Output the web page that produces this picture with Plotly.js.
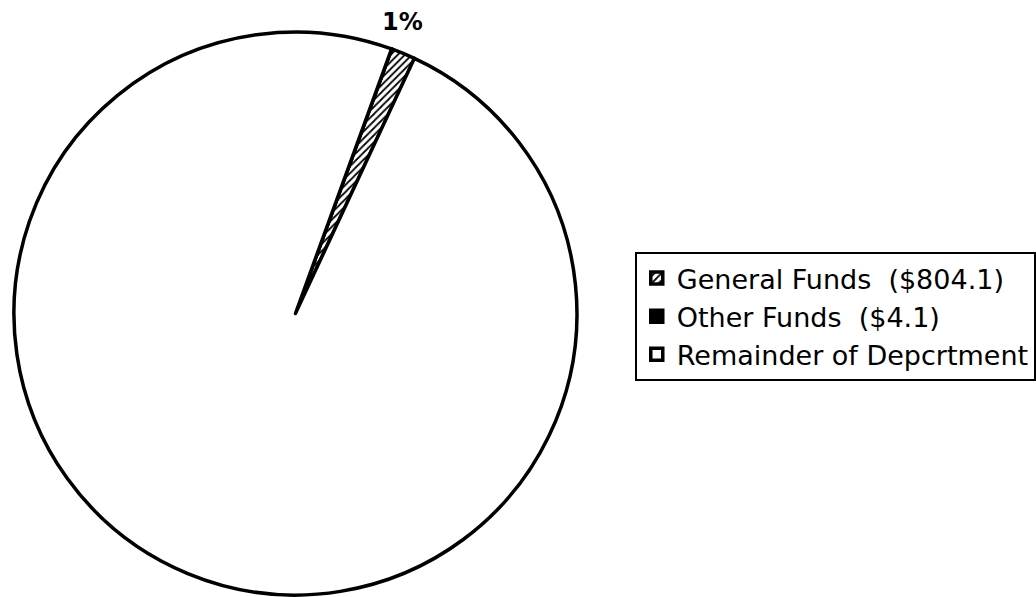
<!DOCTYPE html>
<html>
<head>
<meta charset="utf-8">
<script src="https://cdn.plot.ly/plotly-3.0.1.min.js"></script>
<style>html,body{margin:0;padding:0;background:#fff;}#chart{width:1036px;height:597px;}</style>
</head>
<body>
<div id="chart"></div>
<script>
var categories = ['General Funds  ($804.1)', 'Other Funds  ($4.1)', 'Remainder of Depcrtment'];
var values = [804.1, 4.1, 57087];
var sliceColors = ['#ffffff', '#000000', '#ffffff'];

var total = values.reduce(function(a, b){ return a + b; }, 0);
var pctLabel = Math.round(values[0] / total * 100) + '%';

var trace = {
  type: 'pie',
  labels: categories,
  values: values,
  sort: false,
  direction: 'counterclockwise',
  rotation: 20,
  textinfo: 'none',
  hoverinfo: 'label+percent',
  marker: {
    colors: sliceColors,
    line: {color: '#000000', width: 3.5},
    pattern: {
      shape: ['/', '', ''],
      fgcolor: '#000000',
      bgcolor: '#ffffff',
      size: 5,
      solidity: 0.35
    }
  },
  domain: {x: [13/1036, 579/1036], y: [2/597, 565/597]},
  showlegend: true
};

var layout = {
  width: 1036,
  height: 597,
  margin: {l: 0, r: 0, t: 0, b: 0},
  paper_bgcolor: '#ffffff',
  font: {family: '"DejaVu Sans", sans-serif', color: '#000000'},
  legend: {
    x: 636/1036, y: 1 - 252/597,
    xanchor: 'left', yanchor: 'top',
    bgcolor: '#ffffff',
    bordercolor: '#000000',
    borderwidth: 2,
    font: {size: 27, color: '#000000', family: '"DejaVu Sans", sans-serif'},
    tracegroupgap: 0,
    itemwidth: 30
  },
  annotations: [{
    text: pctLabel,
    xref: 'paper', yref: 'paper',
    x: 403/1036, y: 1 - 22/597,
    xanchor: 'center', yanchor: 'middle',
    showarrow: false,
    font: {size: 24, color: '#000000', family: '"DejaVu Sans", sans-serif', weight: 'bold'}
  }]
};

Plotly.newPlot('chart', [trace], layout, {displayModeBar: false, staticPlot: true});
</script>
</body>
</html>
